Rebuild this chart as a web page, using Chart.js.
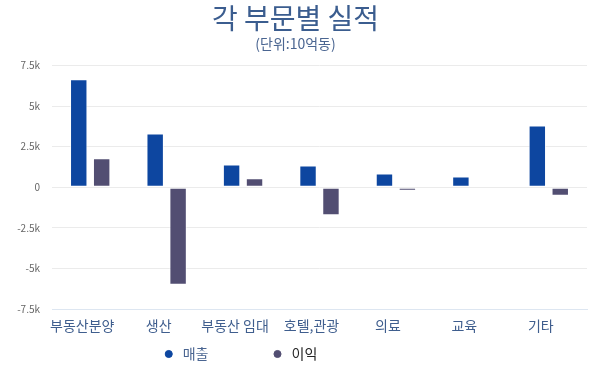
<!DOCTYPE html>
<html>
<head>
<meta charset="utf-8">
<script src="https://cdn.jsdelivr.net/npm/chart.js@4"></script>
<style>
  html, body { margin: 0; padding: 0; background: #fff; }
  #wrap { width: 600px; height: 371px; }
</style>
</head>
<body>
<div id="wrap"><canvas id="graph1"></canvas></div>
<script>
const categories = ['부동산분양', '생산', '부동산 임대', '호텔,관광', '의료', '교육', '기타'];
const sales = [6650, 3300, 1400, 1330, 840, 660, 3800];
const profit = [1780, -6000, 550, -1720, -220, 0, -530];
const yTicks = [-7500, -5000, -2500, 0, 2500, 5000, 7500];

const font = "'Noto Sans CJK KR', 'Noto Sans', sans-serif";

const config = {
    type: 'bar',
    data: {
        labels: categories,
        datasets: [
            {
                label: '매출\u2003\u2003\u2003\u2002\u2002',
                data: sales,
                backgroundColor: '#0d46a0',
                borderColor: 'rgba(255,255,255,0.7)',
                borderWidth: 1,
                borderSkipped: false,
            },
            {
                label: '이익\u2003\u2003\u2003\u2003\u2003\u2003\u2003\u2003',
                data: profit,
                backgroundColor: '#524e72',
                borderColor: 'rgba(255,255,255,0.7)',
                borderWidth: 1,
                borderSkipped: false,
            }
        ]
    },
    options: {
        responsive: true,
        maintainAspectRatio: false,
        animation: false,
        categoryPercentage: 0.6,
        barPercentage: 0.76,
        layout: { padding: { left: 4, right: 13, top: 0, bottom: 0 } },
        scales: {
            y: {
                min: yTicks[0],
                max: yTicks[yTicks.length - 1],
                afterBuildTicks: axis => { axis.ticks = yTicks.map(v => ({ value: v })); },
                afterFit: axis => { axis.width = 48; },
                border: { display: false },
                grid: { color: '#ebebeb', drawTicks: false },
                ticks: {
                    padding: 12,
                    color: '#666',
                    font: { family: font, size: 10 },
                    callback: v => v === 0 ? '0' : (v / 1000) + 'k'
                }
            },
            x: {
                afterFit: axis => { axis.height = 32; },
                border: { display: true, color: '#dde6f1' },
                grid: { display: false, drawTicks: false },
                ticks: {
                    color: '#3f5e8e',
                    labelOffset: -8,
                    padding: 8,
                    font: { family: font, size: 14 }
                }
            }
        },
        plugins: {
            title: {
                display: true,
                text: '각 부문별 실적',
                color: '#3b5d8f',
                font: { family: font, size: 28, weight: 'normal' },
                padding: { top: 2, bottom: 0 }
            },
            subtitle: {
                display: true,
                text: '(단위:10억동)',
                color: '#4a6591',
                font: { family: font, size: 14 },
                padding: { top: 0, bottom: 13 }
            },
            legend: {
                position: 'bottom',
                labels: {
                    usePointStyle: true,
                    pointStyle: 'circle',
                    boxWidth: 14,
                    boxHeight: 5,
                    padding: 6,
                    font: { family: font, size: 14 },
                    generateLabels: chart => {
                        const items = Chart.defaults.plugins.legend.labels.generateLabels(chart);
                        const colors = ['#4a6591', '#222'];
                        items.forEach((it, i) => {
                            it.fontColor = colors[i];
                            it.strokeStyle = it.fillStyle;
                        });
                        return items;
                    }
                }
            },
            tooltip: { enabled: false }
        }
    }
};

const myChart = new Chart(document.getElementById('graph1'), config);
</script>
</body>
</html>
